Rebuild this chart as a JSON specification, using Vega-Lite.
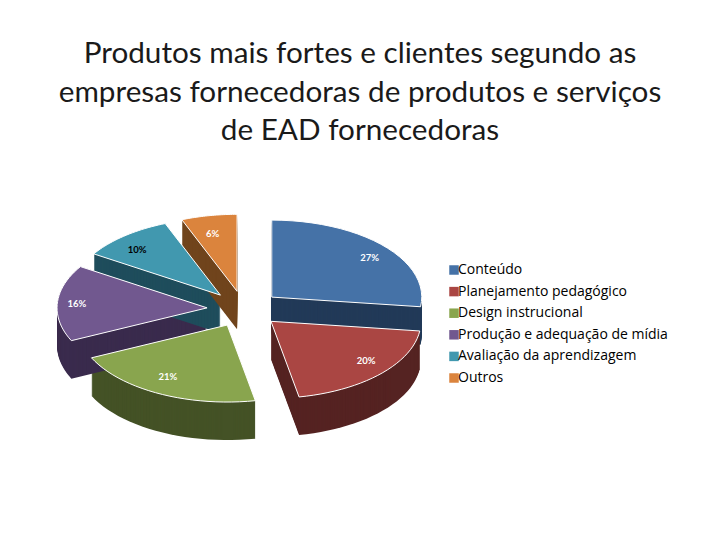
{
"$schema":"https://vega.github.io/schema/vega-lite/v6.json",
"width":720,"height":380,"padding":{"top":39,"left":0,"right":0,"bottom":0},
"autosize":{"type":"pad","contains":"content"},
"background":"white",
"view":{"stroke":null},
"title":{"text":["Produtos mais fortes e clientes segundo as","empresas fornecedoras de produtos e serviços","de EAD fornecedoras"],"font":"Lato","fontSize":29.7,"fontWeight":"normal","color":"#1a1a1a","lineHeight":38.5,"anchor":"middle","frame":"group","offset":10},
"data":{"values":[
{"nome":"Conteúdo","pct":0.27,"ordem":1},
{"nome":"Planejamento pedagógico","pct":0.20,"ordem":2},
{"nome":"Design instrucional","pct":0.21,"ordem":3},
{"nome":"Produção e adequação de mídia","pct":0.16,"ordem":4},
{"nome":"Avaliação da aprendizagem","pct":0.10,"ordem":5},
{"nome":"Outros","pct":0.06,"ordem":6}
]},
"transform":[
{"stack":"pct","groupby":[],"sort":[{"field":"ordem","order":"ascending"}],"as":["ini","fim"]},
{"calculate":"(datum.ini+datum.fim)/2","as":"meio"},
{"calculate":"sin(datum.meio*2*PI)","as":"sx"},
{"calculate":"cos(datum.meio*2*PI)","as":"cy"}
],
"layer":[
{"transform":[
{"calculate":"[-1,0,0.04,0.08,0.12,0.16,0.2,0.24,0.28,0.32,0.36,0.4,0.44,0.48,0.52,0.56,0.6,0.64,0.68,0.72,0.76,0.8,0.84,0.88,0.92,0.96,1]","as":"t"},
{"flatten":["t"]},
{"calculate":"[38,37,36,35,34,33,32,31,30,29,28,27,26,25,24,23,22,21,20,19,18,17,16,15,14,13,12,11,10,9,8,7,6,5,4,3,2,1]","as":"camada"},
{"flatten":["camada"]},
{"calculate":"(datum.ini+datum.t*(datum.fim-datum.ini))*2*PI","as":"ang"},
{"calculate":"0.37*datum.sx+(datum.t<0?0:1.5*sin(datum.ang))","as":"px"},
{"calculate":"0.18*datum.cy+(datum.t<0?0:0.77*cos(datum.ang))-datum.camada/100","as":"py"}
],
"mark":{"type":"line","filled":true,"interpolate":"linear-closed","strokeWidth":0},
"encoding":{
"x":{"field":"px","type":"quantitative","scale":{"domain":[-2.44,4.76],"range":[0,720],"zero":false,"nice":false},"axis":null},
"y":{"field":"py","type":"quantitative","scale":{"domain":[-2.28,1.52],"range":[380,0],"zero":false,"nice":false},"axis":null},
"order":{"field":"t","type":"quantitative"},
"detail":[{"field":"nome"},{"field":"camada"}],
"color":{"field":"nome","type":"nominal","legend":null,"scale":{"domain":["Conteúdo","Planejamento pedagógico","Design instrucional","Produção e adequação de mídia","Avaliação da aprendizagem","Outros"],"range":["#223a58","#552322","#445226","#3a2b4d","#1f4d5c","#70441c"]}}
}},
{"transform":[
{"calculate":"[-1,0,0.04,0.08,0.12,0.16,0.2,0.24,0.28,0.32,0.36,0.4,0.44,0.48,0.52,0.56,0.6,0.64,0.68,0.72,0.76,0.8,0.84,0.88,0.92,0.96,1]","as":"t"},
{"flatten":["t"]},
{"calculate":"(datum.ini+datum.t*(datum.fim-datum.ini))*2*PI","as":"ang"},
{"calculate":"0.37*datum.sx+(datum.t<0?0:1.5*sin(datum.ang))","as":"px"},
{"calculate":"0.18*datum.cy+(datum.t<0?0:0.77*cos(datum.ang))","as":"py"}
],
"mark":{"type":"line","filled":true,"interpolate":"linear-closed","stroke":"white","strokeWidth":1},
"encoding":{
"x":{"field":"px","type":"quantitative","scale":{"domain":[-2.44,4.76],"range":[0,720],"zero":false,"nice":false},"axis":null},
"y":{"field":"py","type":"quantitative","scale":{"domain":[-2.28,1.52],"range":[380,0],"zero":false,"nice":false},"axis":null},
"order":{"field":"t","type":"quantitative"},
"color":{"field":"nome","type":"nominal","scale":{"domain":["Conteúdo","Planejamento pedagógico","Design instrucional","Produção e adequação de mídia","Avaliação da aprendizagem","Outros"],"range":["#4572a7","#aa4643","#89a54e","#71588f","#4198af","#db843d"]},
"legend":{"title":null,"orient":"none","legendX":447,"legendY":106,"symbolType":"square","symbolSize":90,"symbolStrokeWidth":0,"labelFont":"Open Sans","labelFontSize":14,"labelColor":"#000000","rowPadding":7.6,"labelOffset":-3,"labelLimit":260}}
}},
{"transform":[
{"calculate":"0.37*datum.sx+0.87*1.5*datum.sx","as":"tx"},
{"calculate":"0.18*datum.cy+0.76*0.77*datum.cy","as":"ty"}
],
"mark":{"type":"text","font":"Lato","fontSize":9.5,"fontWeight":"bold"},
"encoding":{
"x":{"field":"tx","type":"quantitative","scale":{"domain":[-2.44,4.76],"range":[0,720],"zero":false,"nice":false},"axis":null},
"y":{"field":"ty","type":"quantitative","scale":{"domain":[-2.28,1.52],"range":[380,0],"zero":false,"nice":false},"axis":null},
"text":{"field":"pct","type":"quantitative","format":".0%"},
"color":{"condition":{"test":"datum.nome==='Avaliação da aprendizagem'","value":"#000000"},"value":"#ffffff"}
}}
],
"resolve":{"scale":{"color":"independent"}}
}
